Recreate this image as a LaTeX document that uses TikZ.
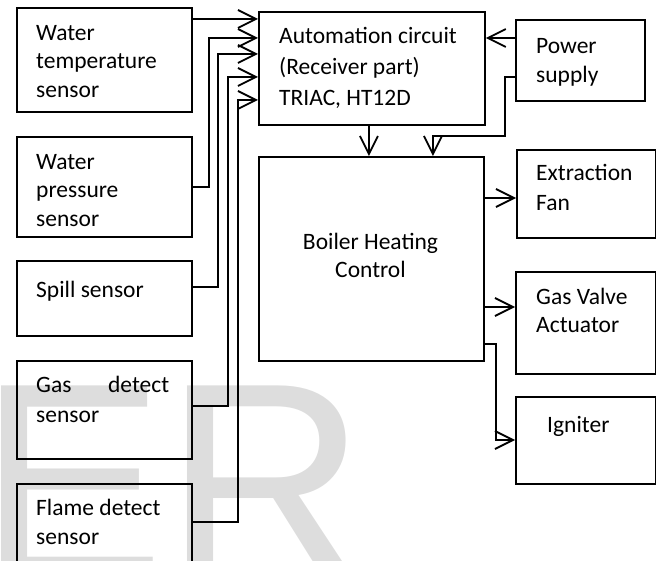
\documentclass[tikz,border=0pt]{standalone}
\usepackage{fontspec}
\setmainfont{Carlito}
\newfontfamily\wmfont{Liberation Sans}
\usetikzlibrary{arrows.meta}
\definecolor{wmgray}{RGB}{221,221,221}

\begin{document}
\begin{tikzpicture}[x=1pt,y=-1pt,
  box/.style={draw=black, line width=1.8pt, rectangle, inner sep=0pt, anchor=north west},
  lbl/.style={anchor=north west, inner sep=0pt, align=left,
    font=\fontsize{23.5}{28.5}\selectfont, execute at begin node={\rule{0pt}{20pt}}},
  wire/.style={line width=1.8pt},
  link/.style={wire, -{Straight Barb[length=18pt,width=18pt]}}
]
\useasboundingbox (0,0) rectangle (656,561);
\clip (0,0) rectangle (656,561);

% faint background lettering
\node[anchor=base west, inner sep=0pt, text=wmgray,
  font=\wmfont\fontsize{280}{280}\selectfont] (wm) at (-22,578) {ER};

% sensor boxes (left column)
\node[box, minimum width=175pt, minimum height=104pt] (wt) at (16,7) {};
\node[box, minimum width=175pt, minimum height=100pt] (wp) at (16,136) {};
\node[box, minimum width=175pt, minimum height=75pt]  (sp) at (16,260) {};
\node[box, minimum width=175pt, minimum height=98pt]  (gd) at (16,360) {};
\node[box, minimum width=175pt, minimum height=100pt] (fd) at (16,483) {};

% controller boxes (middle column)
\node[box, minimum width=226pt, minimum height=113pt] (ac) at (258,11) {};
\node[box, minimum width=225pt, minimum height=204pt] (bh) at (258,156) {};

% supply and actuator boxes (right column)
\node[box, minimum width=129pt, minimum height=81pt]  (ps) at (515,19) {};
\node[box, minimum width=139pt, minimum height=88pt]  (ef) at (516,149) {};
\node[box, minimum width=140pt, minimum height=102pt] (gv) at (515,271) {};
\node[box, minimum width=140pt, minimum height=87pt]  (ig) at (515,396) {};

% box texts
\node[lbl] (t-wt) at (36,25) {Water\\temperature\\sensor};
\node[lbl] (t-wp) at (36,154) {Water\\pressure\\sensor};
\node[lbl] (t-sp) at (36,277) {Spill sensor};
\node[lbl, font=\fontsize{23.5}{29.5}\selectfont] (t-gd) at (36,376)
  {\makebox[133pt][s]{Gas detect}\\sensor};
\node[lbl, font=\fontsize{23.5}{29}\selectfont] (t-fd) at (36,499) {Flame detect\\sensor};
\node[lbl, font=\fontsize{23.5}{31}\selectfont] (t-ac) at (279,27)
  {Automation circuit\\(Receiver part)\\TRIAC, HT12D};
\node[lbl, font=\fontsize{23.5}{29}\selectfont] (t-ps) at (536,38) {Power\\supply};
\node[lbl, anchor=north, align=center, font=\fontsize{23.5}{27.5}\selectfont]
  (t-bh) at (370.5,233) {Boiler Heating\\Control};
\node[lbl, font=\fontsize{23.5}{30}\selectfont] (t-ef) at (536,164) {Extraction\\Fan};
\node[lbl, font=\fontsize{23.5}{28}\selectfont] (t-gv) at (536,288) {Gas Valve\\Actuator};
\node[lbl] (t-ig) at (547,412) {Igniter};

% entry points on the automation circuit
\coordinate (in2) at ([yshift=-27pt]ac.north west);
\coordinate (in3) at ([yshift=-43pt]ac.north west);
\coordinate (in4) at ([yshift=-66pt]ac.north west);
\coordinate (in5) at ([yshift=-89pt]ac.north west);

% sensor outputs
\coordinate (o1) at ([yshift=-12pt]wt.north east);
\coordinate (o3) at ([yshift=-27pt]sp.north east);
\coordinate (o4) at ([yshift=-46pt]gd.north east);
\coordinate (o5) at ([yshift=-39pt]fd.north east);

\draw[link] (o1) -- (o1 -| ac.west);
\draw[link] (wp.east) -- ++(16,0) |- (in2);
\draw[link] (o3) -- ++(25,0) |- (in3);
\draw[link] (o4) -- ++(35,0) |- (in4);
\draw[link] (o5) -- ++(45,0) |- (in5);

% automation circuit to boiler control
\coordinate (d1) at ([xshift=-3pt]ac.south);
\draw[link] (d1) -- (d1 |- bh.north);

% power supply feeds
\coordinate (p1) at ([yshift=-19pt]ps.north west);
\coordinate (p2) at ([yshift=-58pt]ps.north west);
\coordinate (q2) at ([xshift=61.5pt,yshift=20pt]bh.north);
\draw[link] (p1) -- (p1 -| ac.east);
\draw[link] (p2) -- ++(-10,0) |- (q2) -- (q2 |- bh.north);

% boiler control outputs
\coordinate (e1) at ([yshift=-42pt]bh.north east);
\coordinate (e2) at ([yshift=-151pt]bh.north east);
\coordinate (e3) at ([yshift=-188pt]bh.north east);
\coordinate (i3) at ([yshift=-44pt]ig.north west);
\draw[link] (e1) -- (e1 -| ef.west);
\draw[link] (e2) -- (e2 -| gv.west);
\draw[link] (e3) -- ++(11,0) |- (i3);
\end{tikzpicture}
\end{document}
